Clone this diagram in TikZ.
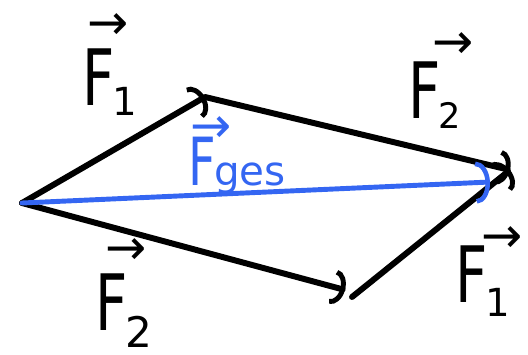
\documentclass[tikz,border=0pt]{standalone}
\usepackage{fontspec}
\setsansfont{DejaVu Sans}
\usepackage{xcolor}
\usepackage{graphicx}
\usepackage{tikz}
\usetikzlibrary{arrows.meta}
\definecolor{PenBlack}{HTML}{000000}
\definecolor{PenBlue}{HTML}{3466F2}
% F with vector arrow (shifted by #4, raised by #5), then an index #1 lowered by #2 at size #3
\newcommand{\forcelab}[5]{%
  \rlap{\kern#4\raisebox{#5}{\fontsize{28}{28}\selectfont →}}%
  \scalebox{0.78}[1.08]{F}\kern-1pt%
  \raisebox{-#2}{\fontsize{#3}{#3}\selectfont #1}}
\tikzset{
  pen/.style={draw=PenBlack,line width=3.4pt,line cap=round,line join=round,
    -{Arc Barb[length=7pt,width=20pt,line width=2.8pt]}},
  bluepen/.style={draw=PenBlue,line width=2.8pt,line cap=round,
    -{Arc Barb[length=8pt,width=24pt,line width=2.6pt]}},
  forcelabel/.style={anchor=base west,inner sep=0pt,font=\sffamily\fontsize{41}{46}\selectfont}
}

\begin{document}
\begin{tikzpicture}[x=0.02cm,y=-0.02cm]
\path[use as bounding box] (0,0) rectangle (528,355);
\coordinate (A) at (22,203);
\coordinate (B) at (205,97);
\coordinate (C) at (510,170);
\coordinate (D) at (345,290);
\coordinate (Dend) at (352,297);
\coordinate (R) at (490,182);
% parallelogram of forces
\draw[pen] (A) -- (B);
\draw[pen] (B) -- (C);
\draw[pen] (A) -- (D);
\draw[pen] (Dend) -- (C);
\draw[bluepen] (A) -- (R);
% labels
\node[forcelabel] (f1top) at (82,105) {\forcelab{1}{6pt}{22}{3pt}{37pt}};
\node[forcelabel] (f2top) at (408,118) {\forcelab{2}{6pt}{20}{14pt}{34pt}};
\node[forcelabel,text=PenBlue,font=\sffamily\fontsize{35}{40}\selectfont] (fges) at (188,185) {\forcelab{ges}{0pt}{23}{1pt}{24pt}};
\node[forcelabel] (f2bot) at (95,330) {\forcelab{2}{10pt}{24}{6pt}{37pt}};
\node[forcelabel] (f1bot) at (455,302) {\forcelab{1}{8pt}{22}{15pt}{28pt}};
\end{tikzpicture}
\end{document}
